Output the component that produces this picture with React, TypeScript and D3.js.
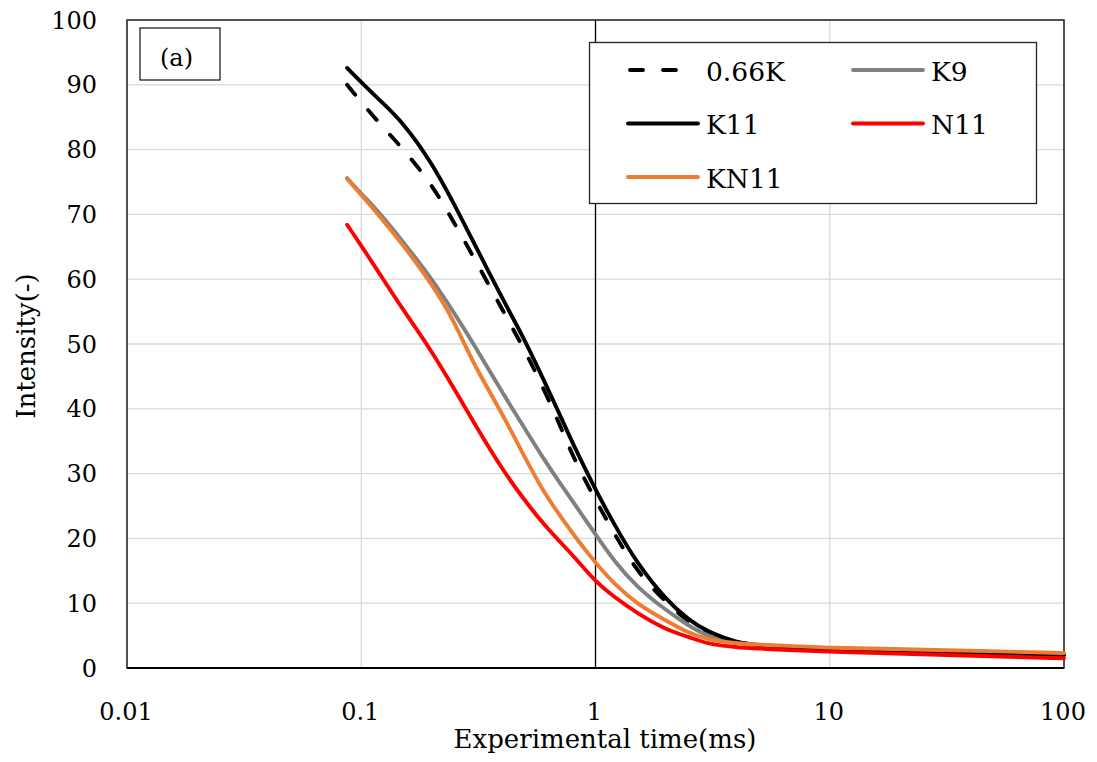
import React from "react";
import * as d3 from "d3";

const times = [0.087, 0.1, 0.12, 0.15, 0.2, 0.25, 0.3, 0.4, 0.5, 0.6, 0.7, 0.8, 1.0, 1.2, 1.5, 2, 2.5, 3, 4, 5, 7, 10, 20, 50, 100];
const k066 = [90.0, 87.3, 84.0, 80.2, 74.7, 68.6, 63.6, 55.3, 49.0, 43.1, 37.8, 32.6, 25.9, 20.8, 14.9, 10.1, 7.1, 5.3, 3.9, 3.5, 3.2, 2.9, 2.6, 2.3, 2.0];
const k9 = [75.6, 73.2, 70.2, 65.9, 60.1, 54.7, 50.2, 42.5, 36.9, 32.3, 28.7, 25.7, 20.6, 16.5, 12.5, 8.9, 6.5, 4.9, 3.9, 3.5, 3.2, 3.0, 2.7, 2.4, 2.1];
const k11 = [92.6, 90.4, 87.6, 84.3, 78.0, 71.5, 65.9, 57.0, 50.6, 44.5, 39.3, 34.6, 27.5, 22.2, 16.2, 10.5, 7.4, 5.6, 3.9, 3.5, 3.2, 2.9, 2.6, 2.3, 2.0];
const n11 = [68.4, 65.2, 60.8, 55.4, 48.9, 43.0, 38.1, 30.6, 25.8, 22.2, 19.6, 17.4, 13.3, 11.0, 8.5, 5.9, 4.8, 3.7, 3.2, 3.0, 2.7, 2.5, 2.2, 1.8, 1.5];
const kn11 = [75.5, 73.0, 69.7, 65.4, 59.3, 53.5, 47.0, 39.3, 32.4, 27.2, 23.7, 20.7, 16.2, 13.0, 9.9, 7.3, 5.4, 4.4, 3.8, 3.6, 3.4, 3.1, 2.9, 2.6, 2.3];

const xTicks = [0.01, 0.1, 1, 10, 100];
const xTickLabels = ["0.01", "0.1", "1", "10", "100"];
const yTicks = [0, 10, 20, 30, 40, 50, 60, 70, 80, 90, 100];

const seriesNames = ["0.66K", "K9", "K11", "N11", "KN11"];
const seriesValues = [k066, k9, k11, n11, kn11];
const seriesColors = ["#000000", "#808080", "#000000", "#ff0000", "#ed7d31"];
const seriesDashed = [true, false, false, false, false];

const FONT = "'DejaVu Serif', serif";

export default function App() {
  const left = 127, right = 1064, top = 20, bottom = 668;
  const x = d3.scaleLog().domain([0.01, 100]).range([left, right]);
  const y = d3.scaleLinear().domain([0, 100]).range([bottom, top]);
  const line = d3
    .line<[number, number]>()
    .x((d) => x(d[0]))
    .y((d) => y(d[1]))
    .curve(d3.curveBasis);

  const legendPos = [
    { lx: 628, ly: 70 },
    { lx: 853, ly: 70 },
    { lx: 628, ly: 123.5 },
    { lx: 853, ly: 123.5 },
    { lx: 628, ly: 177 },
  ];

  return (
    <svg width={1097} height={762} style={{ position: "absolute", left: 0, top: 0, background: "#fff" }}>
      <rect x={0} y={0} width={1097} height={762} fill="#fff" />
      {/* grid */}
      {yTicks.map((t) => (
        <line key={"gy" + t} x1={left} x2={right} y1={y(t)} y2={y(t)} stroke="#d9d9d9" strokeWidth={1.3} />
      ))}
      {xTicks.map((t) => (
        <line key={"gx" + t} x1={x(t)} x2={x(t)} y1={top} y2={bottom} stroke="#d9d9d9" strokeWidth={1.3} />
      ))}
      {/* plot border */}
      <rect x={left} y={top} width={right - left} height={bottom - top} fill="none" stroke="#222" strokeWidth={1.5} />
      <line x1={x(1)} x2={x(1)} y1={top} y2={bottom} stroke="#000" strokeWidth={1.3} />
      <line x1={left} x2={right} y1={bottom} y2={bottom} stroke="#000" strokeWidth={2} />

      {/* series */}
      {seriesValues.map((vals, i) => (
        <path
          key={seriesNames[i]}
          d={line(times.map((t, j) => [t, vals[j]] as [number, number])) || ""}
          fill="none"
          stroke={seriesColors[i]}
          strokeWidth={3.9}
          strokeLinecap="round"
          strokeLinejoin="round"
          strokeDasharray={seriesDashed[i] ? "13,20" : undefined}
        />
      ))}

      {/* y tick labels */}
      {yTicks.map((t) => (
        <text key={"ty" + t} x={97} y={y(t) + 8.6} textAnchor="end" fontFamily={FONT} fontSize={24} fill="#000">
          {t}
        </text>
      ))}
      {/* x tick labels */}
      {xTicks.map((t, i) => (
        <text key={"tx" + t} x={x(t) - 1} y={720} textAnchor="middle" fontFamily={FONT} fontSize={24} fill="#000">
          {xTickLabels[i]}
        </text>
      ))}
      {/* axis titles */}
      <text x={605} y={748} textAnchor="middle" fontFamily={FONT} fontSize={26} fill="#000">
        Experimental time(ms)
      </text>
      <text
        x={0}
        y={0}
        transform={`translate(35,346) rotate(-90)`}
        textAnchor="middle"
        fontFamily={FONT}
        fontSize={26}
        fill="#000"
      >
        Intensity(-)
      </text>

      {/* (a) label */}
      <rect x={140} y={28} width={80} height={52} fill="#fff" stroke="#222" strokeWidth={1.3} />
      <text x={176.5} y={66} textAnchor="middle" fontFamily={FONT} fontSize={24} fill="#000">
        (a)
      </text>

      {/* legend */}
      <rect x={589.5} y={42.5} width={447} height={161} fill="#fff" stroke="#222" strokeWidth={1.3} />
      {seriesNames.map((name, i) => {
        const p = legendPos[i];
        const dashed = seriesDashed[i];
        return (
          <g key={"lg" + name}>
            <line
              x1={dashed ? p.lx + 2 : p.lx}
              x2={dashed ? p.lx + 48 : p.lx + 70}
              y1={p.ly}
              y2={p.ly}
              stroke={seriesColors[i]}
              strokeWidth={3.9}
              strokeLinecap="round"
              strokeDasharray={dashed ? "13,20" : undefined}
            />
            <text x={p.lx + 78} y={p.ly + 10.5} fontFamily={FONT} fontSize={26.5} fill="#000">
              {name}
            </text>
          </g>
        );
      })}
    </svg>
  );
}
